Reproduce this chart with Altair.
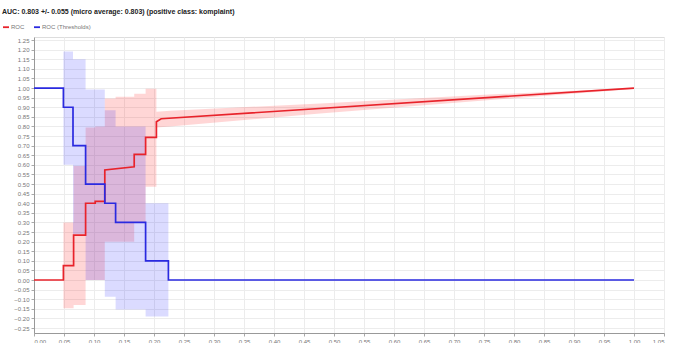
import altair as alt
import pandas as pd

TITLE = "AUC: 0.803 +/- 0.055 (micro average: 0.803) (positive class: komplaint)"
SERIES = ["ROC", "ROC (Thresholds)"]
COLORS = ["#e8232b", "#2a2ae0"]

# ROC curve (mean)
roc_x = [0.0, 0.049, 0.049, 0.066, 0.066, 0.086, 0.086, 0.102, 0.102, 0.118, 0.118,
         0.167, 0.167, 0.186, 0.186, 0.204, 0.204, 0.212, 1.0]
roc_y = [0.0, 0.0, 0.075, 0.075, 0.234, 0.234, 0.40, 0.40, 0.41, 0.41, 0.573,
         0.59, 0.655, 0.655, 0.743, 0.743, 0.825, 0.84, 1.0]

# ROC thresholds curve
thr_x = [0.0, 0.049, 0.049, 0.065, 0.065, 0.086, 0.086, 0.118, 0.118, 0.136, 0.136,
         0.186, 0.186, 0.224, 0.224, 1.0]
thr_y = [1.0, 1.0, 0.9, 0.9, 0.7, 0.7, 0.5, 0.5, 0.4, 0.4, 0.3, 0.3, 0.1, 0.1, 0.0, 0.0]

# ROC std band (stepped part)
roc_band_x = [0.049, 0.066, 0.086, 0.102, 0.118, 0.136, 0.167, 0.186, 0.204]
roc_band_lo = [-0.147, -0.13, 0.0, 0.0, 0.20, 0.20, 0.30, 0.486, 0.486]
roc_band_hi = [0.30, 0.594, 0.795, 0.80, 0.945, 0.955, 0.97, 0.997, 0.997]

# ROC std band (tail)
roc_tail_x = [0.204, 0.227, 0.477, 0.75, 1.0]
roc_tail_lo = [0.795, 0.80, 0.868, 0.935, 0.995]
roc_tail_hi = [0.877, 0.882, 0.92, 0.965, 1.0]

# Thresholds std band
thr_band_x = [0.049, 0.065, 0.086, 0.118, 0.136, 0.186, 0.224]
thr_band_lo = [0.60, 0.24, 0.0, -0.087, -0.153, -0.19, -0.19]
thr_band_hi = [1.19, 1.15, 0.993, 0.885, 0.80, 0.40, 0.40]

x_ticks = [0.0, 0.05, 0.1, 0.15, 0.2, 0.25, 0.3, 0.35, 0.4, 0.45, 0.5, 0.55, 0.6,
           0.65, 0.7, 0.75, 0.8, 0.85, 0.9, 0.95, 1.0, 1.05]
y_ticks = [-0.25, -0.2, -0.15, -0.1, -0.05, 0.0, 0.05, 0.1, 0.15, 0.2, 0.25, 0.3,
           0.35, 0.4, 0.45, 0.5, 0.55, 0.6, 0.65, 0.7, 0.75, 0.8, 0.85, 0.9, 0.95,
           1.0, 1.05, 1.1, 1.15, 1.2, 1.25]

lines = pd.DataFrame(
    [{"x": x, "y": y, "series": SERIES[0], "i": k} for k, (x, y) in enumerate(zip(roc_x, roc_y))]
    + [{"x": x, "y": y, "series": SERIES[1], "i": k} for k, (x, y) in enumerate(zip(thr_x, thr_y))]
)
roc_band = pd.DataFrame({"x": roc_band_x, "lo": roc_band_lo, "hi": roc_band_hi})
roc_tail = pd.DataFrame({"x": roc_tail_x, "lo": roc_tail_lo, "hi": roc_tail_hi})
thr_band = pd.DataFrame({"x": thr_band_x, "lo": thr_band_lo, "hi": thr_band_hi})

FONT = "Liberation Sans"
xscale = alt.Scale(domain=[0, 1.05], nice=False, zero=False)
yscale = alt.Scale(domain=[-0.276, 1.266], nice=False, zero=False)

xaxis = alt.Axis(values=x_ticks, tickCount=60, format=".2f", title=None, labelFontSize=6,
                 labelColor="#777", labelFont=FONT, tickColor="#aaa", tickSize=3,
                 domainColor="#999", gridColor="#ececec", labelPadding=2,
                 labelOverlap=False)
yaxis = alt.Axis(values=y_ticks, tickCount=60, format=".2f", title=None, labelFontSize=6,
                 labelColor="#777", labelFont=FONT, tickColor="#aaa", tickSize=3,
                 domainColor="#999", gridColor="#ececec", labelPadding=2,
                 labelOverlap=False)

X = alt.X("x:Q", scale=xscale, axis=xaxis)

band_red = alt.Chart(roc_band).mark_area(interpolate="step-after", color="#ff0000", opacity=0.16).encode(
    x=X, y=alt.Y("lo:Q", scale=yscale, axis=yaxis), y2="hi:Q")
tail_red = alt.Chart(roc_tail).mark_area(color="#ff0000", opacity=0.16).encode(
    x=alt.X("x:Q", scale=xscale), y=alt.Y("lo:Q", scale=yscale), y2="hi:Q")
band_blue = alt.Chart(thr_band).mark_area(interpolate="step-after", color="#0000ff", opacity=0.14).encode(
    x=alt.X("x:Q", scale=xscale), y=alt.Y("lo:Q", scale=yscale), y2="hi:Q")

line = alt.Chart(lines).mark_line(strokeWidth=1.7).encode(
    x=alt.X("x:Q", scale=xscale),
    y=alt.Y("y:Q", scale=yscale),
    color=alt.Color("series:N",
                    scale=alt.Scale(domain=SERIES, range=COLORS),
                    legend=alt.Legend(orient="none", legendX=-32, legendY=-14,
                                      direction="horizontal", title=None,
                                      symbolType="stroke", symbolStrokeWidth=1.8,
                                      symbolSize=36, labelFontSize=6, labelColor="#777",
                                      labelFont=FONT, columnPadding=5, padding=0,
                                      labelOffset=1, symbolOffset=0)),
    detail="series:N",
    order=alt.Order("i:Q"),
)

chart = alt.layer(band_red, tail_red, band_blue, line).properties(
    width=630, height=296,
    title=alt.TitleParams(TITLE, anchor="start", frame="group", fontSize=7, fontWeight="bold",
                          font=FONT, color="#222", dx=-32, offset=8),
    autosize=alt.AutoSizeParams(type="none"),
    padding={"left": 34, "top": 37, "right": 20, "bottom": 10},
).configure_view(stroke="#bbb", strokeWidth=1).configure(background="white")

chart.save("out.html", embed_options={"renderer": "svg", "actions": False})
